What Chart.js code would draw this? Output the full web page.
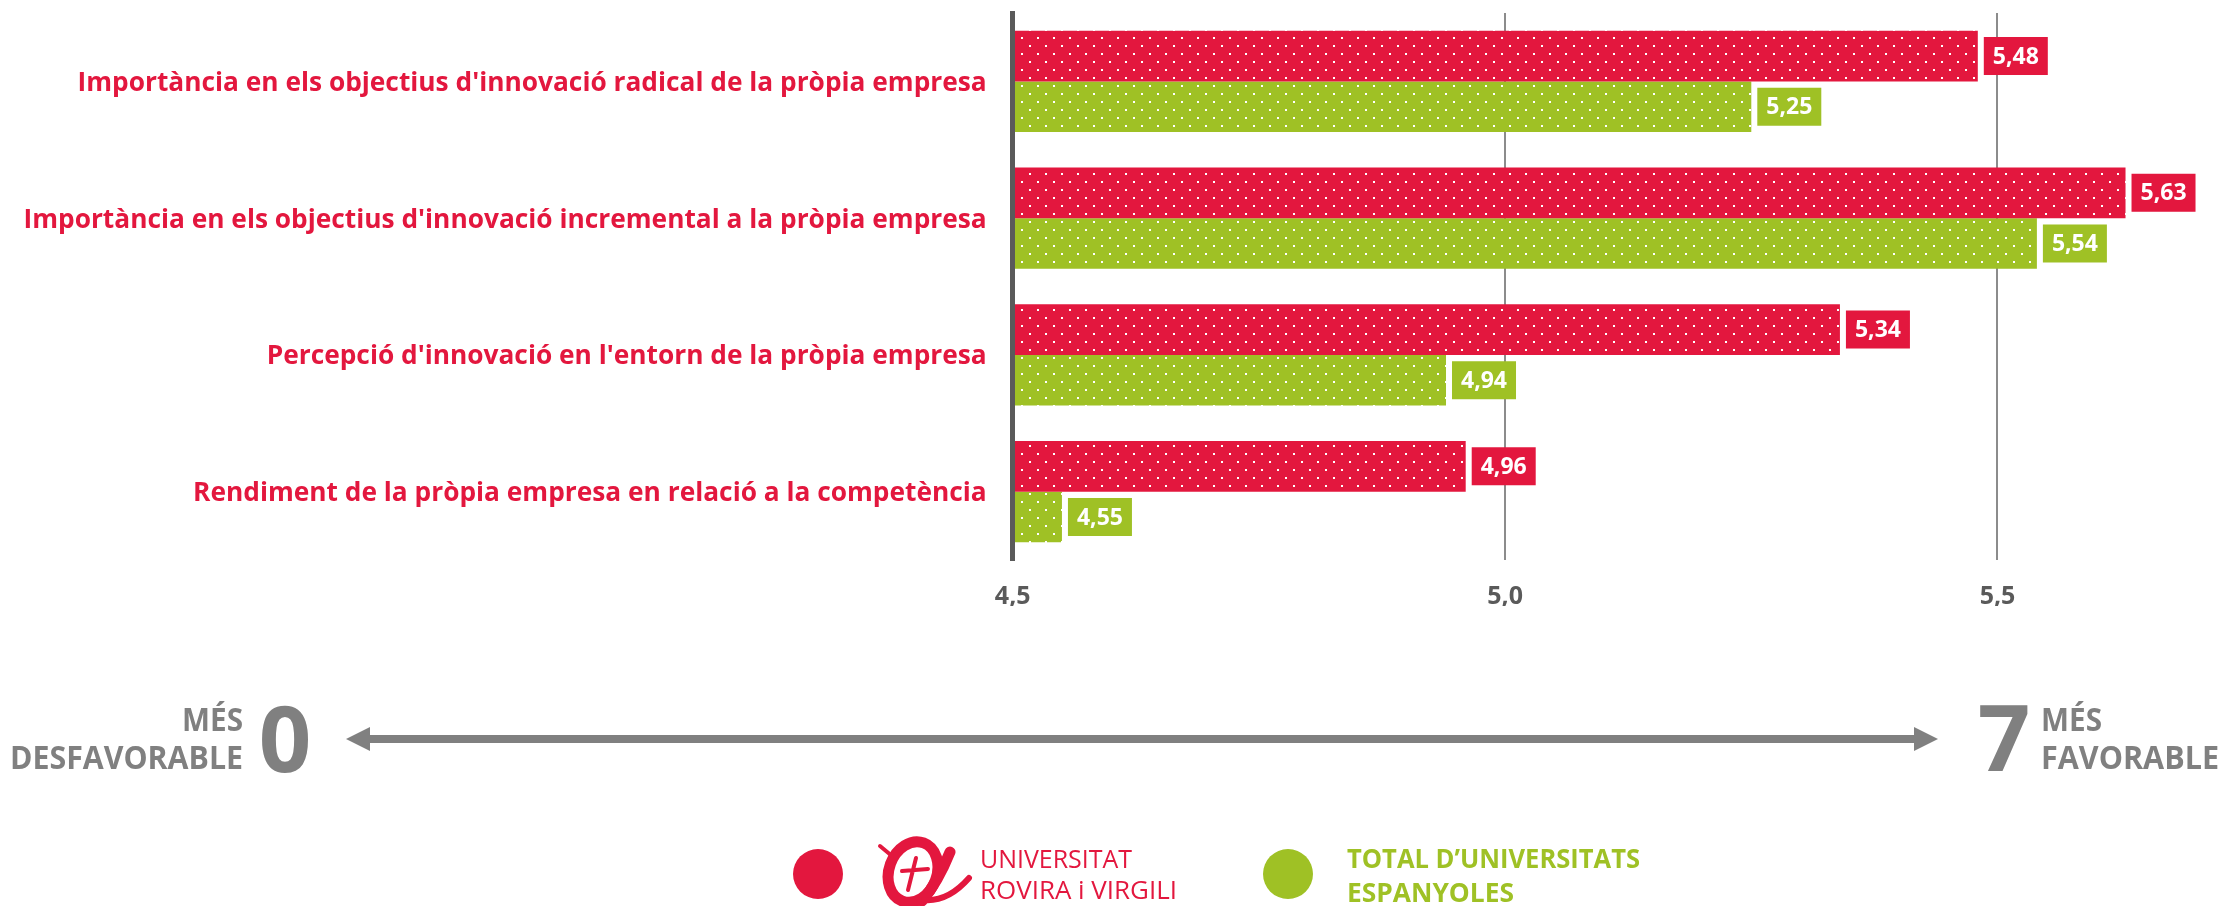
<!DOCTYPE html>
<html lang="ca">
<head>
<meta charset="utf-8">
<title>Innovació a la pròpia empresa</title>
<script src="https://cdn.jsdelivr.net/npm/chart.js@4"></script>
<style>
    html, body { margin: 0; padding: 0; background: #fff; }
    canvas { display: block; }
</style>
</head>
<body>
<canvas id="innovacioChart" width="2224" height="906"></canvas>
<script>
const categories = [
    "Importància en els objectius d'innovació radical de la pròpia empresa",
    "Importància en els objectius d'innovació incremental a la pròpia empresa",
    "Percepció d'innovació en l'entorn de la pròpia empresa",
    "Rendiment de la pròpia empresa en relació a la competència"
];
const urvValues = [5.48, 5.63, 5.34, 4.96];
const totalValues = [5.25, 5.54, 4.94, 4.55];
const seriesNames = ['UNIVERSITAT ROVIRA i VIRGILI', "TOTAL D'UNIVERSITATS ESPANYOLES"];

const RED = '#E3173E';
const GREEN = '#9FC125';
const GREY = '#808080';
const FONT = '"Open Sans", sans-serif';

// Trama de punts blancs, fixada a l'origen del canvas
function dotPattern(ctx, color) {
    const tile = document.createElement('canvas');
    tile.width = 16;
    tile.height = 16;
    const t = tile.getContext('2d');
    t.fillStyle = color;
    t.fillRect(0, 0, 16, 16);
    t.fillStyle = '#fff';
    t.fillRect(13, 5, 2, 2);
    t.fillRect(5, 13, 2, 2);
    return ctx.createPattern(tile, 'repeat');
}

function comma(value, decimals) {
    return value.toFixed(decimals).replace('.', ',');
}

// Etiquetes de valor en caixa de color
const valueBoxes = {
    id: 'valueBoxes',
    afterDatasetsDraw(chart) {
        const ctx = chart.ctx;
        ctx.save();
        ctx.font = '700 23px ' + FONT;
        ctx.textAlign = 'center';
        ctx.textBaseline = 'middle';
        chart.data.datasets.forEach((dataset, i) => {
            chart.getDatasetMeta(i).data.forEach((bar, j) => {
                ctx.fillStyle = dataset.boxColor;
                ctx.fillRect(bar.x + 6, bar.y - 19, 64, 38);
                ctx.fillStyle = '#fff';
                ctx.fillText(comma(dataset.data[j], 2), bar.x + 38, bar.y + 1);
            });
        });
        ctx.restore();
    }
};

// Text ajustat a l'amplada mesurada a la referència
function fitText(ctx, text, x, y, width) {
    const w = ctx.measureText(text).width;
    ctx.save();
    ctx.translate(x, y);
    ctx.scale(width / w, 1);
    ctx.fillText(text, 0, 0);
    ctx.restore();
}

// Escala inferior: fletxa de 0 a 7
function drawScaleArrow(ctx) {
    const y = 739;
    ctx.fillStyle = GREY;
    ctx.fillRect(365, y - 4, 1555, 8);
    ctx.beginPath();
    ctx.moveTo(346, y);
    ctx.lineTo(370, y - 12);
    ctx.lineTo(370, y + 12);
    ctx.closePath();
    ctx.fill();
    ctx.beginPath();
    ctx.moveTo(1938, y);
    ctx.lineTo(1914, y - 12);
    ctx.lineTo(1914, y + 12);
    ctx.closePath();
    ctx.fill();

    ctx.textBaseline = 'alphabetic';
    ctx.textAlign = 'left';
    ctx.font = '700 32px ' + FONT;
    fitText(ctx, 'MÉS', 182, 731, 61);
    fitText(ctx, 'DESFAVORABLE', 10, 769, 233);
    fitText(ctx, 'MÉS', 2041, 731, 61);
    fitText(ctx, 'FAVORABLE', 2041, 769, 178);
    ctx.font = '700 92px ' + FONT;
    ctx.textAlign = 'center';
    ctx.fillText('0', 285, 772);
    ctx.fillText('7', 2004, 771);
}

// Logotip URV dibuixat a mà, aproximat
function drawLogo(ctx) {
    ctx.strokeStyle = RED;
    ctx.lineCap = 'round';
    ctx.lineJoin = 'round';
    ctx.lineWidth = 11;
    ctx.beginPath();
    ctx.ellipse(913, 872, 24, 31, 0.35, 0, Math.PI * 2);
    ctx.stroke();
    ctx.beginPath();
    ctx.moveTo(950, 852);
    ctx.quadraticCurveTo(938, 882, 922, 901);
    ctx.stroke();
    ctx.lineWidth = 6;
    ctx.beginPath();
    ctx.moveTo(924, 900);
    ctx.quadraticCurveTo(948, 902, 969, 878);
    ctx.stroke();
    ctx.lineWidth = 4;
    ctx.beginPath();
    ctx.moveTo(916, 858);
    ctx.lineTo(908, 890);
    ctx.moveTo(902, 871);
    ctx.lineTo(928, 869);
    ctx.moveTo(880, 846);
    ctx.lineTo(892, 856);
    ctx.stroke();
}

function drawLegend(ctx) {
    ctx.fillStyle = RED;
    ctx.beginPath();
    ctx.arc(818, 874, 25, 0, Math.PI * 2);
    ctx.fill();
    ctx.fillStyle = GREEN;
    ctx.beginPath();
    ctx.arc(1288, 874, 25, 0, Math.PI * 2);
    ctx.fill();

    drawLogo(ctx);

    ctx.textAlign = 'left';
    ctx.textBaseline = 'alphabetic';
    ctx.fillStyle = RED;
    ctx.font = '400 26px "Liberation Sans Narrow", ' + FONT;
    fitText(ctx, 'UNIVERSITAT', 980, 868, 152);
    fitText(ctx, 'ROVIRA i VIRGILI', 980, 899, 197);
    ctx.fillStyle = GREEN;
    ctx.font = '700 26px "Liberation Sans Narrow", ' + FONT;
    fitText(ctx, 'TOTAL D’UNIVERSITATS', 1347, 868, 293);
    fitText(ctx, 'ESPANYOLES', 1347, 902, 167);
}

const decorations = {
    id: 'decorations',
    afterDraw(chart) {
        const ctx = chart.ctx;
        ctx.save();
        drawScaleArrow(ctx);
        drawLegend(ctx);
        ctx.restore();
    }
};

function initChart() {
    const ctx = document.getElementById('innovacioChart').getContext('2d');
    new Chart(ctx, {
        type: 'bar',
        data: {
            labels: categories,
            datasets: [{
                label: seriesNames[0],
                data: urvValues,
                backgroundColor: dotPattern(ctx, RED),
                boxColor: RED
            }, {
                label: seriesNames[1],
                data: totalValues,
                backgroundColor: dotPattern(ctx, GREEN),
                boxColor: GREEN
            }]
        },
        options: {
            indexAxis: 'y',
            responsive: false,
            animation: false,
            categoryPercentage: 0.742,
            barPercentage: 1,
            layout: { padding: { top: 13, bottom: 300 } },
            plugins: {
                legend: { display: false },
                tooltip: { enabled: false }
            },
            scales: {
                x: {
                    min: 4.5,
                    max: 5.73,
                    afterFit: scale => { scale.height = 46; },
                    border: { display: false },
                    grid: { color: '#8c8c8c', lineWidth: 2, drawTicks: false },
                    ticks: {
                        stepSize: 0.5,
                        includeBounds: false,
                        padding: 22,
                        color: '#5a5a5a',
                        font: { family: FONT, weight: '700', size: 25 },
                        callback: value => comma(value, 1)
                    }
                },
                y: {
                    afterFit: scale => {
                        scale.width = 1012.7;
                        scale.paddingTop = 0;
                        scale.paddingBottom = 0;
                    },
                    border: { display: true, color: '#5a5a5a', width: 5, z: 1 },
                    grid: { display: false },
                    ticks: {
                        autoSkip: false,
                        padding: 18,
                        labelOffset: 2,
                        color: RED,
                        font: { family: FONT, weight: '700', size: 26.3 }
                    }
                }
            }
        },
        plugins: [valueBoxes, decorations]
    });
}

document.addEventListener('DOMContentLoaded', initChart);
</script>
</body>
</html>
